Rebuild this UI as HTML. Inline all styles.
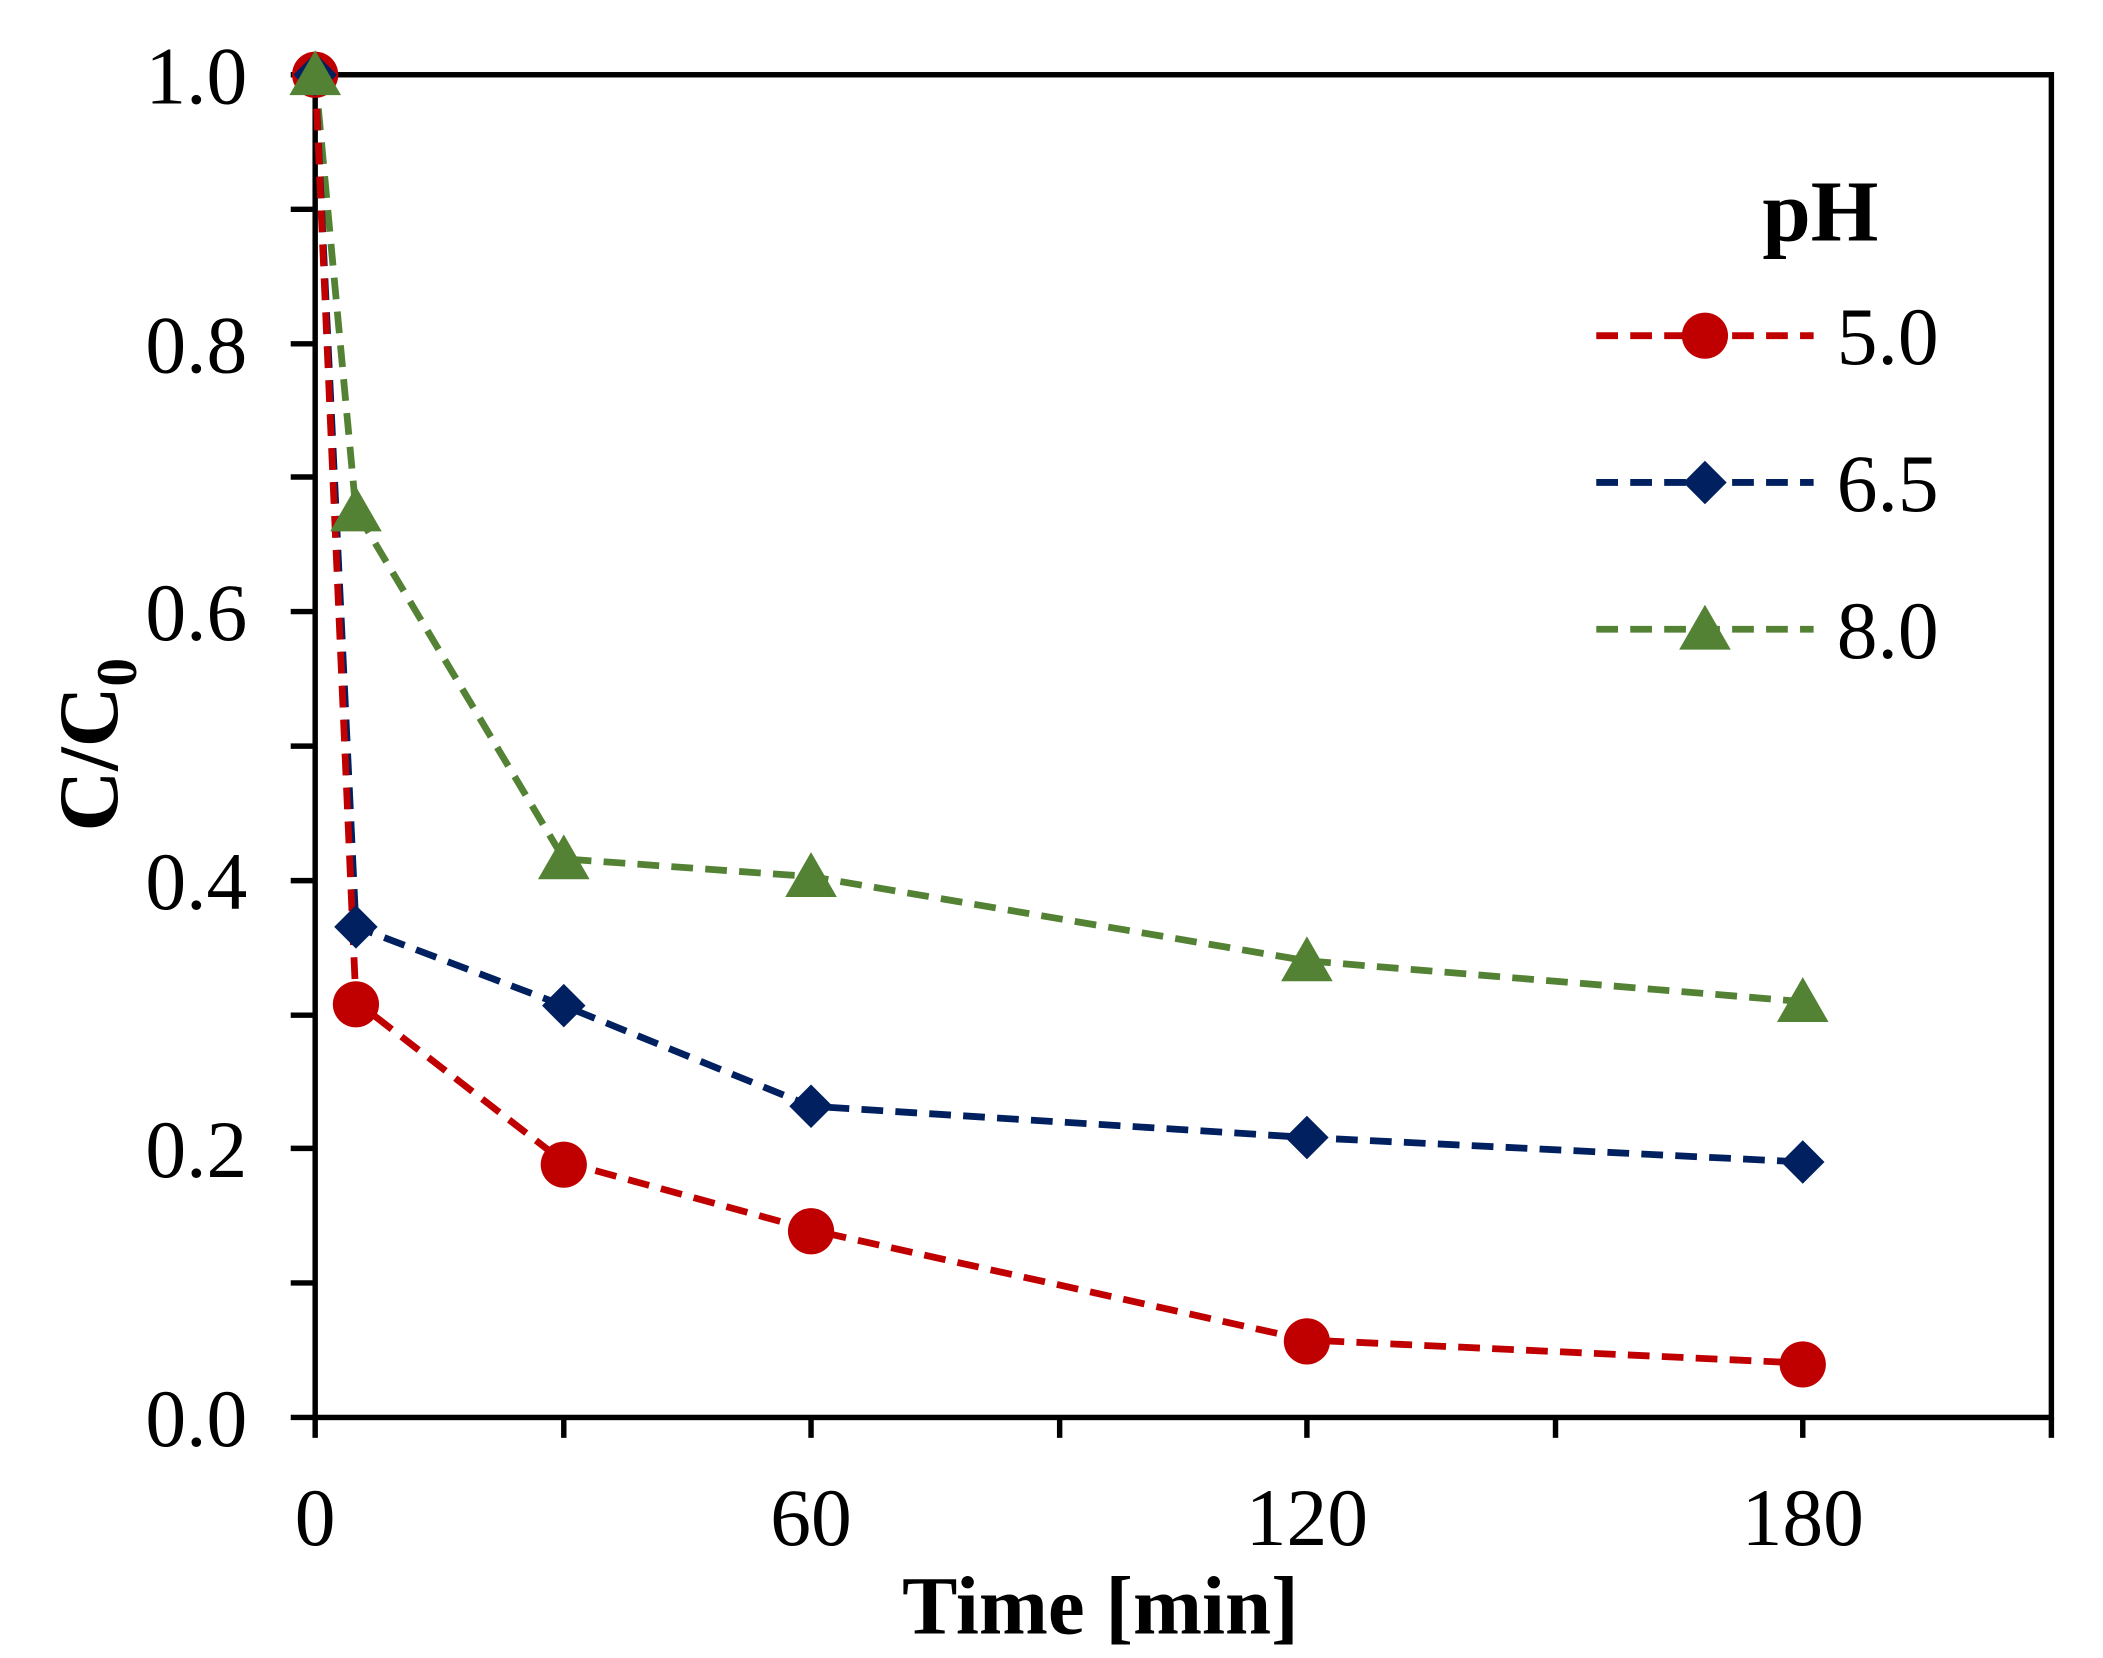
<!DOCTYPE html>
<html><head><style>html,body{margin:0;padding:0;background:#fff}svg{display:block}</style></head>
<body>
<svg width="2103" height="1658" viewBox="0 0 1548 1220" preserveAspectRatio="none" xmlns="http://www.w3.org/2000/svg" font-family="Liberation Serif, serif">
<rect x="0" y="0" width="1548" height="1220" fill="#fff"/>
<rect x="232" y="55" width="1278" height="988" fill="none" stroke="#000" stroke-width="4"/>
<g stroke="#000" stroke-width="4">
<line x1="214" y1="55" x2="232" y2="55"/><line x1="214" y1="154" x2="232" y2="154"/>
<line x1="214" y1="253" x2="232" y2="253"/><line x1="214" y1="351" x2="232" y2="351"/>
<line x1="214" y1="450" x2="232" y2="450"/><line x1="214" y1="549" x2="232" y2="549"/>
<line x1="214" y1="648" x2="232" y2="648"/><line x1="214" y1="747" x2="232" y2="747"/>
<line x1="214" y1="845" x2="232" y2="845"/><line x1="214" y1="944" x2="232" y2="944"/>
<line x1="214" y1="1043" x2="232" y2="1043"/>
<line x1="232" y1="1043" x2="232" y2="1058"/><line x1="415" y1="1043" x2="415" y2="1058"/>
<line x1="597" y1="1043" x2="597" y2="1058"/><line x1="780" y1="1043" x2="780" y2="1058"/>
<line x1="962" y1="1043" x2="962" y2="1058"/><line x1="1145" y1="1043" x2="1145" y2="1058"/>
<line x1="1327" y1="1043" x2="1327" y2="1058"/><line x1="1510" y1="1043" x2="1510" y2="1058"/>
</g>
<g font-size="60" text-anchor="end">
<text x="182" y="76">1.0</text><text x="182" y="274">0.8</text><text x="182" y="471">0.6</text>
<text x="182" y="669">0.4</text><text x="182" y="866">0.2</text><text x="182" y="1064">0.0</text>
</g>
<g font-size="60" text-anchor="middle">
<text x="232" y="1137">0</text><text x="597" y="1137">60</text><text x="962" y="1137">120</text><text x="1327" y="1137">180</text>
</g>
<text x="810" y="1202" font-size="61" font-weight="bold" text-anchor="middle">Time [min]</text>
<text transform="translate(86,548) rotate(-90)" font-size="62" font-weight="bold" text-anchor="middle">C/C<tspan font-size="42" dy="14">0</tspan></text>
<g fill="none" stroke-width="5" stroke-dasharray="16,9">
<polyline stroke="#548235" points="232,55 262,376 415,632 597,645 962,707 1327,737"/>
<polyline stroke="#002060" points="232,55 262,682 415,740 597,814 962,837 1327,855"/>
<polyline stroke="#C00000" points="232,55 262,737 415,855 597,905 962,986 1327,1003"/>
</g>
<g fill="#C00000">
<circle cx="232" cy="55" r="17"/><circle cx="262" cy="739" r="17"/><circle cx="415" cy="857" r="17"/>
<circle cx="597" cy="906" r="17"/><circle cx="962" cy="987" r="17"/><circle cx="1327" cy="1004" r="17"/>
</g>
<g fill="#002060">
<path d="M232,39l16,16l-16,16l-16,-16z"/><path d="M262,666l16,16l-16,16l-16,-16z"/><path d="M415,724l16,16l-16,16l-16,-16z"/>
<path d="M597,798l16,16l-16,16l-16,-16z"/><path d="M962,821l16,16l-16,16l-16,-16z"/><path d="M1327,839l16,16l-16,16l-16,-16z"/>
</g>
<g fill="#548235">
<path d="M232,37l19,33h-38z"/><path d="M262,358l19,33h-38z"/><path d="M415,614l19,33h-38z"/>
<path d="M597,627l19,33h-38z"/><path d="M962,689l19,33h-38z"/><path d="M1327,719l19,33h-38z"/>
</g>
<text x="1340" y="177" font-size="64" font-weight="bold" text-anchor="middle">pH</text>
<g fill="none" stroke-width="5" stroke-dasharray="16,9">
<line x1="1175" y1="247" x2="1335" y2="247" stroke="#C00000"/>
<line x1="1175" y1="355" x2="1335" y2="355" stroke="#002060"/>
<line x1="1175" y1="463" x2="1335" y2="463" stroke="#548235"/>
</g>
<circle cx="1255" cy="247" r="17" fill="#C00000"/>
<path d="M1255,339l16,16l-16,16l-16,-16z" fill="#002060"/>
<path d="M1255,445l19,33h-38z" fill="#548235"/>
<g font-size="60">
<text x="1352" y="268">5.0</text><text x="1352" y="376">6.5</text><text x="1352" y="484">8.0</text>
</g>
</svg>
</body></html>
